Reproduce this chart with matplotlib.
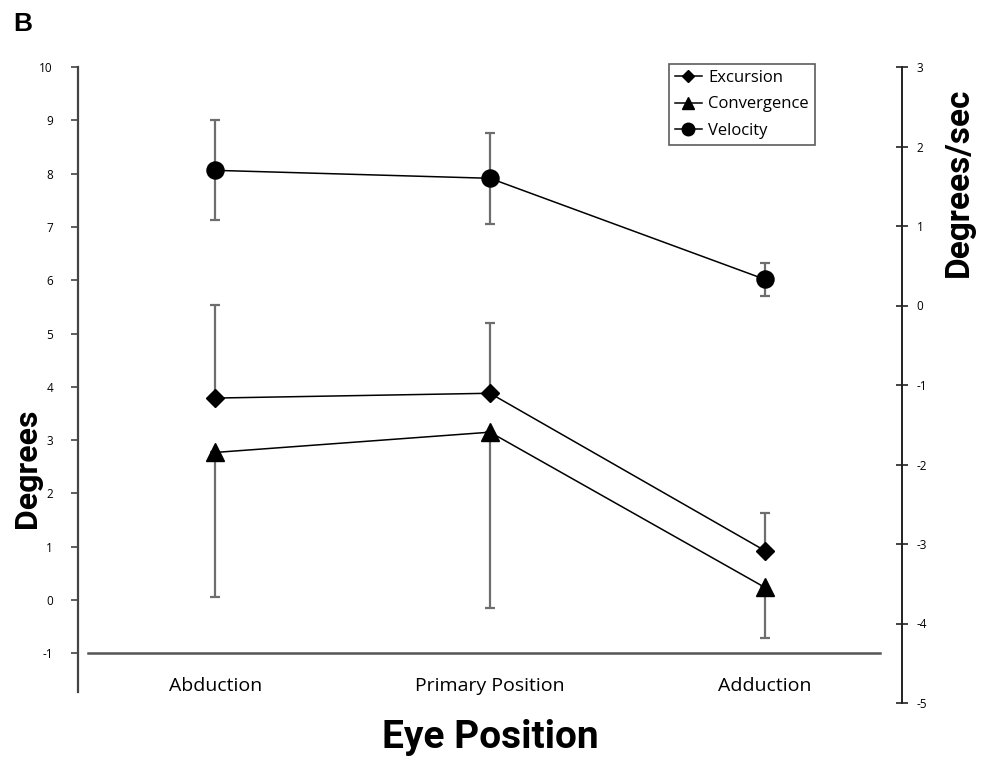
import matplotlib
matplotlib.use("Agg")
import matplotlib.pyplot as plt
import numpy as np
from matplotlib.lines import Line2D

plt.rcParams['font.family'] = ['Open Sans', 'DejaVu Sans']

# Data
positions = ["Abduction", "Primary Position", "Adduction"]
excursion = [3.79, 3.88, 0.93]
excursion_err_up = [1.74, 1.32, 0.71]
convergence = [2.77, 3.15, 0.24]
convergence_err_down = [2.71, 3.30, 0.95]
velocity = [1.70, 1.60, 0.33]
velocity_err = [0.63, 0.57, 0.21]

left_ticks = list(range(-1, 11))
right_ticks = list(range(-5, 4))
legend_labels = ["Excursion", "Convergence", "Velocity"]

x = np.arange(len(positions))

fig = plt.figure(figsize=(9.87, 7.64), dpi=100)
ax = fig.add_axes([78 / 987, 61 / 764, 824 / 987, 636 / 764])
ax2 = ax.twinx()

err_color = "#6e6e6e"
err_kw = dict(fmt="none", ecolor=err_color, elinewidth=1.6, capsize=3.3,
              capthick=1.6, zorder=2)
ax.set_xlim(-0.5, 2.5)
ax.set_ylim(-1.93, 10)
ax2.set_ylim(-5, 3)

# Excursion: upper error bars only
ax.errorbar(x, excursion, yerr=[np.zeros(3), excursion_err_up], **err_kw)
ax.plot(x, excursion, color="black", lw=1.1, marker="D", markersize=9.2,
        markerfacecolor="black", markeredgecolor="black", zorder=3)

# Convergence: lower error bars only
ax.errorbar(x, convergence, yerr=[convergence_err_down, np.zeros(3)], **err_kw)
ax.plot(x, convergence, color="black", lw=1.1, marker="^", markersize=13,
        markerfacecolor="black", markeredgecolor="black", zorder=3)

# Velocity on the secondary axis
ax2.errorbar(x, velocity, yerr=velocity_err, **err_kw)
ax2.plot(x, velocity, color="black", lw=1.1, marker="o", markersize=12.3,
         markerfacecolor="black", markeredgecolor="black", zorder=3)

# Spines
for s in ["top", "right"]:
    ax.spines[s].set_visible(False)
for s in ["top", "left", "bottom"]:
    ax2.spines[s].set_visible(False)
ax.spines["left"].set_bounds(-1.72, 10)
ax.spines["left"].set_color("#444444")
ax.spines["left"].set_linewidth(1.6)
ax.spines["bottom"].set_position(("data", -1))
ax.spines["bottom"].set_bounds(-0.465, 2.42)
ax.spines["bottom"].set_color("#555555")
ax.spines["bottom"].set_linewidth(1.8)
ax2.spines["right"].set_bounds(-5, 3)
ax2.spines["right"].set_color("#222222")
ax2.spines["right"].set_linewidth(1.4)

# Ticks
ax.set_yticks(left_ticks)
ax.set_yticklabels([str(t) for t in left_ticks])
ax.tick_params(axis="y", direction="out", length=5, width=1.2, color="#444444",
               labelsize=8.5, pad=13)
ax.set_xticks(x)
ax.set_xticklabels(positions)
ax.tick_params(axis="x", length=0, labelsize=14, pad=17)

ax2.set_yticks(right_ticks)
ax2.set_yticklabels([str(t) for t in right_ticks])
ax2.tick_params(axis="y", direction="inout", length=9, width=1.2, color="#222222",
                labelsize=8.5, pad=6)

# Axis titles
title_font = ['Roboto', 'DejaVu Sans']
ax.set_ylabel("Degrees", fontsize=23, fontweight="bold", family=title_font)
ax.yaxis.set_label_coords(-0.044, 0.369)
ax2.set_ylabel("Degrees/sec", fontsize=24, fontweight="bold", family=title_font)
ax2.yaxis.set_label_coords(1.050, 0.818)
fig.text(0.497, 0.010, "Eye Position", ha="center", va="bottom", fontsize=28,
         fontweight="bold", family=title_font)
fig.text(0.013, 0.984, "B", ha="left", va="top", fontsize=19, fontweight="bold",
         family=['Liberation Sans', 'DejaVu Sans'])

# Legend
handles = [
    Line2D([0], [0], color="black", lw=1.1, marker="D", markersize=6.5),
    Line2D([0], [0], color="black", lw=1.1, marker="^", markersize=9),
    Line2D([0], [0], color="black", lw=1.1, marker="o", markersize=9),
]
leg = ax2.legend(handles, legend_labels, loc="upper right",
                 bbox_to_anchor=(0.894, 1.005), fontsize=12, frameon=True,
                 fancybox=False, edgecolor="#333333", handlelength=1.6,
                 handletextpad=0.4, borderpad=0.35, labelspacing=0.65,
                 borderaxespad=0)
leg.get_frame().set_linewidth(1.2)

fig.savefig("out.png", dpi=100, facecolor="white")
